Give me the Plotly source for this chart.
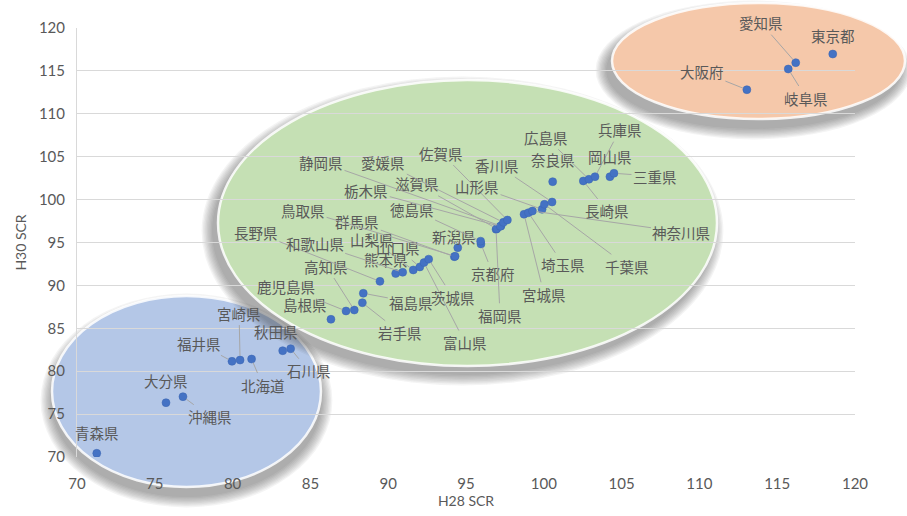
import plotly.graph_objects as go

# ---------------- data ----------------
prefectures = [
    "愛知県", "東京都", "大阪府", "岐阜県",
    "青森県", "大分県", "沖縄県", "福井県", "宮崎県", "北海道", "秋田県", "石川県",
    "島根県", "鹿児島県", "高知県", "岩手県", "福島県", "長野県", "熊本県", "和歌山県",
    "山梨県", "山口県", "富山県", "茨城県",
    "新潟県", "群馬県", "鳥取県", "京都府", "徳島県", "福岡県", "滋賀県", "静岡県",
    "栃木県", "愛媛県", "佐賀県", "宮城県", "埼玉県", "神奈川県", "山形県", "千葉県",
    "香川県", "奈良県", "長崎県", "広島県", "兵庫県", "岡山県", "三重県",
]
h28_scr = [
    116.19, 118.57, 113.05, 115.71,
    71.27, 75.72, 76.81, 79.96, 80.48, 81.22, 83.22, 83.73,
    86.32, 87.29, 87.82, 88.34, 88.40, 89.47, 90.48, 90.93,
    91.61, 92.03, 92.30, 92.60,
    94.47, 94.25, 94.30, 95.96, 95.94, 96.93, 96.98, 97.25,
    97.20, 97.40, 97.66, 98.73, 99.01, 99.27, 99.89, 100.04,
    100.53, 100.57, 102.54, 102.90, 103.29, 104.25, 104.51,
]
h30_scr = [
    115.96, 116.97, 112.81, 115.22,
    70.43, 76.33, 77.03, 81.15, 81.30, 81.42, 82.39, 82.62,
    86.05, 87.02, 87.13, 87.98, 89.08, 90.47, 91.39, 91.53,
    91.80, 92.15, 92.66, 93.06,
    94.40, 93.35, 93.40, 94.83, 95.16, 96.54, 96.60, 96.92,
    96.88, 97.35, 97.62, 98.29, 98.47, 98.67, 98.87, 99.45,
    99.72, 102.09, 102.17, 102.37, 102.67, 102.67, 103.07,
]
x_ticks = [70, 75, 80, 85, 90, 95, 100, 105, 110, 115, 120]
y_ticks = [70, 75, 80, 85, 90, 95, 100, 105, 110, 115, 120]

# label placement (pixel offsets from the point, and whether a leader line is drawn)
label_offsets = {
    "愛知県": (-35, -40, True), "東京都": (0, -19, False), "大阪府": (-45, -18, True),
    "岐阜県": (18, 29, True),
    "青森県": (0, -21, False), "大分県": (0, -22, False), "沖縄県": (27, 20, True),
    "福井県": (-33, -18, True), "宮崎県": (-1, -47, True), "北海道": (11, 26, True),
    "秋田県": (-7, -19, False), "石川県": (18, 22, True),
    "島根県": (-26, -15, False), "鹿児島県": (-60, -24, True), "高知県": (-28, -44, True),
    "岩手県": (38, 30, True), "福島県": (48, 9, True), "長野県": (-124, -49, True),
    "熊本県": (-10, -14, False), "和歌山県": (-88, -29, True), "山梨県": (-41, -30, True),
    "山口県": (-22, -19, True), "富山県": (41, 80, True), "茨城県": (24, 38, True),
    "新潟県": (-4, -11, False), "群馬県": (-97, -35, True), "鳥取県": (-152, -46, True),
    "京都府": (12, 30, True), "徳島県": (-69, -32, True), "福岡県": (4, 86, True),
    "滋賀県": (-80, -45, True), "静岡県": (-180, -64, True), "栃木県": (-134, -36, True),
    "愛媛県": (-120, -60, True), "佐賀県": (-66, -67, True), "宮城県": (20, 80, True),
    "埼玉県": (35, 52, True), "神奈川県": (149, 21, True), "山形県": (-65, -23, True),
    "千葉県": (83, 62, True), "香川県": (-55, -37, True), "奈良県": (0, -22, False),
    "長崎県": (24, 30, True), "広島県": (-43, -42, True), "兵庫県": (25, -47, True),
    "岡山県": (0, -20, False), "三重県": (41, 3, True),
}

# ---------------- layout geometry ----------------
W, H = 907, 516
ML, MR, MT, MB = 77, 52, 28, 59
PW, PH = W - ML - MR, H - MT - MB


def px(x):
    return (x - ML) / PW


def py(y):
    return (H - MB - y) / PH


# ellipse groups (pixel boxes) and colours
groups = [
    dict(box=(52, 296, 321, 487), fill="#B4C7E7", sh=(0, 9)),
    dict(box=(218, 80, 717, 366), fill="#C5E0B4", sh=(-5, 8)),
    dict(box=(612, 3, 905, 119), fill="#F5C8AA", sh=(-5, 9)),
]

shapes = []
for g in groups:
    x0, y0, x1, y1 = g["box"]
    dx, dy = g["sh"]
    # soft shadow
    for i in range(9):
        grow = 1 + i * 1.3
        shapes.append(dict(
            type="circle", xref="paper", yref="paper", layer="below",
            x0=px(x0 + dx - grow), x1=px(x1 + dx + grow),
            y0=py(y1 + dy + grow), y1=py(y0 + dy - grow),
            fillcolor="rgba(60,60,60,0.06)", line=dict(width=0),
        ))
    # main body
    shapes.append(dict(
        type="circle", xref="paper", yref="paper", layer="below",
        x0=px(x0), x1=px(x1), y0=py(y1), y1=py(y0),
        fillcolor=g["fill"], line=dict(color="rgba(255,255,255,0.85)", width=2.5),
    ))

fig = go.Figure()
fig.add_trace(go.Scatter(
    x=h28_scr, y=h30_scr, mode="markers",
    marker=dict(color="#4472C4", size=8, line=dict(color="#3A64B0", width=0.5)),
    hoverinfo="text", text=prefectures, showlegend=False,
))

annotations = []
for name, xv, yv in zip(prefectures, h28_scr, h30_scr):
    ax, ay, leader = label_offsets[name]
    annotations.append(dict(
        x=xv, y=yv, xref="x", yref="y", text=name,
        showarrow=True, ax=ax, ay=ay, arrowhead=0, standoff=4, startstandoff=0,
        arrowwidth=1, arrowcolor="#A6A6A6" if leader else "rgba(0,0,0,0)",
        font=dict(family="Noto Sans CJK JP", size=14.5, color="#595959"),
    ))

fig.update_layout(
    width=W, height=H,
    margin=dict(l=ML, r=MR, t=MT, b=MB),
    paper_bgcolor="white", plot_bgcolor="rgba(0,0,0,0)",
    shapes=shapes, annotations=annotations,
    font=dict(family="Lato", size=15, color="#595959"),
    xaxis=dict(
        range=[70, 120], tickvals=x_ticks, showgrid=False, zeroline=False,
        showline=False, ticks="", tickfont=dict(size=15, color="#595959"),
        automargin=False, ticklabelstandoff=16,
        title=dict(text="H28 SCR", font=dict(size=14, color="#595959"), standoff=4),
    ),
    yaxis=dict(
        range=[70, 120], tickvals=y_ticks, showgrid=True, gridcolor="#D9D9D9",
        gridwidth=1, zeroline=False, showline=True, linecolor="#D9D9D9",
        ticks="", tickfont=dict(size=15, color="#595959"), automargin=False,
        ticklabelstandoff=8,
        title=dict(text="H30 SCR", font=dict(size=14, color="#595959"), standoff=8),
    ),
)

fig.write_html(
    "out.html",
    config={"displayModeBar": False},
    post_script="document.body.style.margin='0';",
)
